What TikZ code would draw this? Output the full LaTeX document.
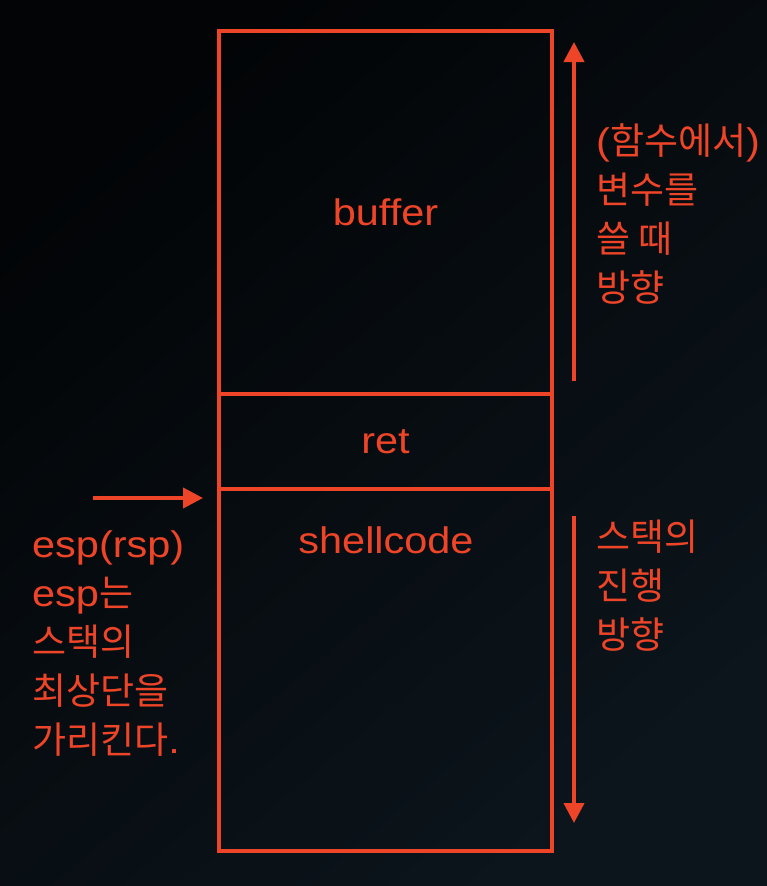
\documentclass[tikz,border=0pt]{standalone}
\usepackage{fontspec}
\setmainfont[FakeStretch=1.12]{Liberation Sans}
\newfontfamily\kr{Noto Sans CJK KR}
\usetikzlibrary{arrows.meta}
\definecolor{acc}{RGB}{238,68,40}
\definecolor{bgA}{RGB}{2,4,6}
\definecolor{bgD}{RGB}{12,21,28}
\newcommand\krt[1]{{\kr\fontsize{37}{49}\selectfont #1}}
\begin{document}
\begin{tikzpicture}[x=1pt,y=-1pt,
  box/.style={draw=acc, line width=3.3pt, minimum width=333pt, inner sep=0pt, text=acc, font=\fontsize{37}{48}\selectfont},
  lbl/.style={text=acc, inner sep=0pt, font=\fontsize{37}{49}\selectfont},
  side/.style={text=acc, inner sep=0pt, align=left, font=\fontsize{37}{49}\selectfont},
  arr/.style={draw=acc, line width=4pt, -{Triangle[length=20pt,width=20pt]}}]
\shade[top color=bgA, bottom color=bgD, shading angle=40] (0,0) rectangle (767,886);
\useasboundingbox (0,0) rectangle (767,886);
\node[box, minimum height=363pt] (buf) at (385.5,212.5) {buffer};
\node[box, minimum height=95pt] (ret) at (385.5,441.5) {ret};
\node[box, minimum height=362pt] (shc) at (385.5,670) {};
\node[lbl] (shct) at (386,540) {shellcode};
\node[side, anchor=north west] (esp) at (32,530) {esp(rsp)\\esp\krt{는}\\\krt{스택의}\\\krt{최상단을}\\\krt{가리킨다}.};
\node[side, anchor=north west] (wdir) at (596,123) {(\krt{함수에서})\\\krt{변수를}\\\krt{쓸 때}\\\krt{방향}};
\node[side, anchor=north west] (sdir) at (596,520) {\krt{스택의}\\\krt{진행}\\\krt{방향}};
\coordinate (upS) at (574,381);
\coordinate (upE) at (574,42);
\coordinate (dnS) at (574,516);
\coordinate (dnE) at (574,823);
\coordinate (spS) at (93,498);
\coordinate (spE) at (203,498);
\draw[arr] (upS) -- (upE);
\draw[arr] (dnS) -- (dnE);
\draw[arr] (spS) -- (spE);
\end{tikzpicture}
\end{document}
